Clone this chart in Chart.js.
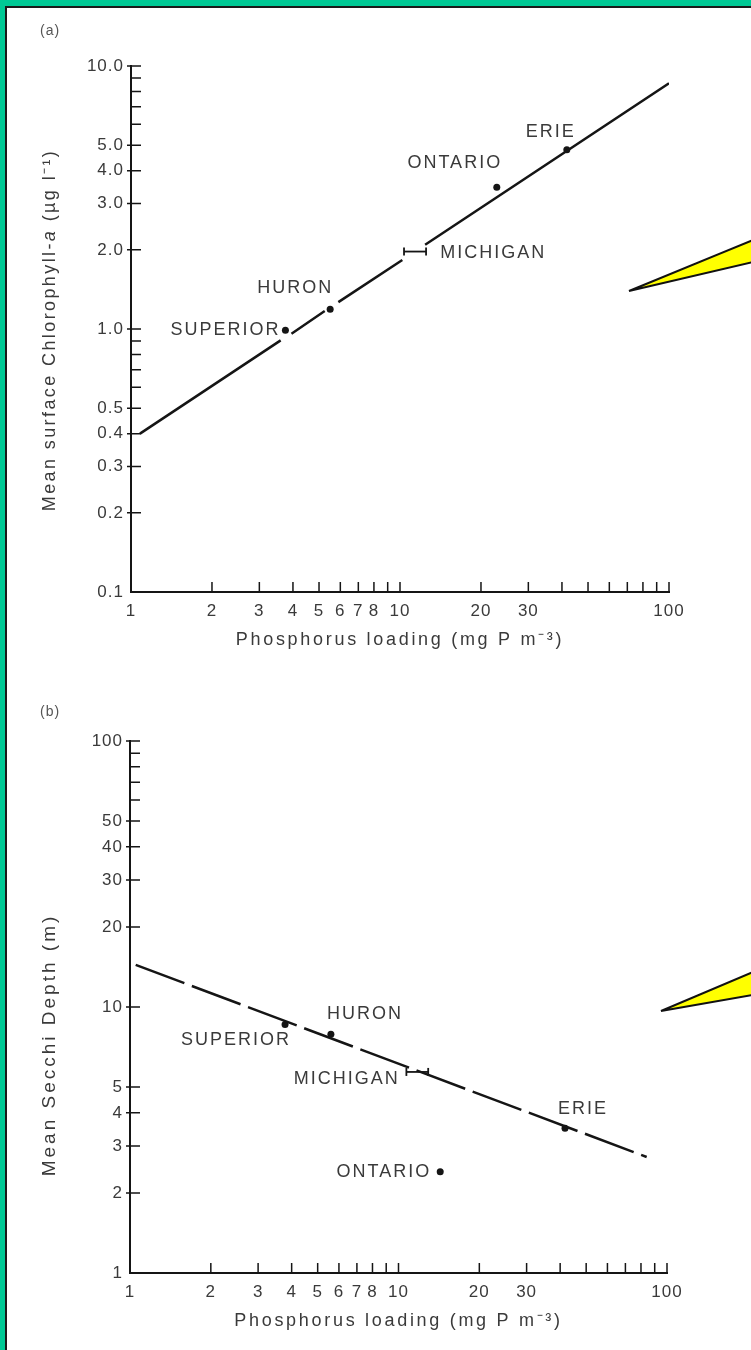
<!DOCTYPE html>
<html>
<head>
<meta charset="utf-8">
<script src="https://cdn.jsdelivr.net/npm/chart.js@4.4.1/dist/chart.umd.min.js"></script>
<style>
  html, body { margin: 0; padding: 0; background: #fff; }
  #page { position: relative; width: 751px; height: 1350px; overflow: hidden; background: #fff; }
  canvas { position: absolute; left: 0; }
  #chartA { top: 0; }
  #chartB { top: 680px; }
  .panel { position: absolute; left: 40px; font: 14px "Liberation Sans", Arial, sans-serif; color: #555; letter-spacing: 1px; }
  #callouts { position: absolute; left: 0; top: 0; }
  #frame { position: absolute; left: 0; top: 0; width: 746px; height: 1344px; border-left: 5px solid #00c995; border-top: 6px solid #00c995; pointer-events: none; }
  #frame div { position: absolute; left: 0; top: 0; right: 0; bottom: 0; border-left: 2px solid #1a1a1a; border-top: 2px solid #1a1a1a; }
</style>
</head>
<body>
<div id="page">
  <canvas id="chartA" width="751" height="670"></canvas>
  <canvas id="chartB" width="751" height="670"></canvas>
  <div class="panel" style="top:22px">(a)</div>
  <div class="panel" style="top:703px">(b)</div>
  <svg id="callouts" width="751" height="1350">
    <polygon points="629,291 753,240 753,262" fill="#ffff00" stroke="#111" stroke-width="2" stroke-linejoin="miter"/>
    <polygon points="661,1011 753,972 753,995" fill="#ffff00" stroke="#111" stroke-width="2" stroke-linejoin="miter"/>
  </svg>
  <div id="frame"><div></div></div>
</div>
<script>
// tick values and labels (both panels share the phosphorus axis)
const xTicks = [1, 2, 3, 4, 5, 6, 7, 8, 9, 10, 20, 30, 40, 50, 60, 70, 80, 90, 100];
const xTickLabels = ['1', '2', '3', '4', '5', '6', '7', '8', '', '10', '20', '30', '', '', '', '', '', '', '100'];

const yTicksA = [0.1, 0.2, 0.3, 0.4, 0.5, 0.6, 0.7, 0.8, 0.9, 1, 2, 3, 4, 5, 6, 7, 8, 9, 10];
const yTickLabelsA = ['0.1', '0.2', '0.3', '0.4', '0.5', '', '', '', '', '1.0', '2.0', '3.0', '4.0', '5.0', '', '', '', '', '10.0'];

const yTicksB = [1, 2, 3, 4, 5, 10, 20, 30, 40, 50, 60, 70, 80, 90, 100];
const yTickLabelsB = ['1', '2', '3', '4', '5', '10', '20', '30', '40', '50', '', '', '', '', '100'];

const lakes = ['SUPERIOR', 'HURON', 'MICHIGAN', 'ONTARIO', 'ERIE'];

// panel (a): chlorophyll vs phosphorus
const phosA = [3.75, 5.5, 11.4, 22.9, 41.7];
const chlA = [0.99, 1.19, 1.97, 3.46, 4.8];
const michiganRangeA = [10.35, 12.5];
const fitAX = [1.08, 3.6, 3.75, 3.95, 5.25, 5.6, 5.9, 10.2, 11.3, 12.4, 100];
const fitAY = [0.40, 0.905, null, 0.96, 1.17, null, 1.265, 1.83, null, 2.09, 8.6];

// panel (b): secchi depth vs phosphorus
const phosB = [3.78, 5.6, 11.8, 14.3, 41.7];
const secchiB = [8.6, 7.9, 5.7, 2.4, 3.5];
const michiganRangeB = [10.7, 12.9];
const fitBX = [1.05, 84];
const fitBY = [14.4, 2.73];

const FONT = '"Liberation Sans", Arial, Helvetica, sans-serif';
const INK = '#151515';
const TEXT = '#3a3a3a';

// label placement relative to each lake's point: [dx, dy, align]
const labelPosA = {
  SUPERIOR: [-5, 0, 'right'], HURON: [-35, -21, 'center'], MICHIGAN: [25, 1, 'left'],
  ONTARIO: [-42, -24, 'center'], ERIE: [-16, -18, 'center']
};
const labelPosB = {
  SUPERIOR: [-49, 16, 'center'], HURON: [34, -20, 'center'], MICHIGAN: [-18, 7, 'right'],
  ONTARIO: [-9, 0, 'right'], ERIE: [18, -19, 'center']
};

function drawParts(ctx, parts, size) {
  let total = 0;
  parts.forEach(p => {
    ctx.font = (p.italic ? 'italic ' : '') + size + 'px ' + FONT;
    total += ctx.measureText(p.t).width;
  });
  let cx = -total / 2;
  parts.forEach(p => {
    ctx.font = (p.italic ? 'italic ' : '') + size + 'px ' + FONT;
    ctx.fillText(p.t, cx, 0);
    cx += ctx.measureText(p.t).width;
  });
}

// inward tick marks, lake names and the axis titles
const decor = {
  id: 'decor',
  beforeDraw(chart) {
    chart.ctx.letterSpacing = '1px';
  },
  afterDraw(chart, args, opts) {
    const ctx = chart.ctx;
    const a = chart.chartArea;
    const x = chart.scales.x, y = chart.scales.y;
    ctx.save();
    ctx.strokeStyle = INK;
    ctx.lineWidth = 1.5;
    ctx.beginPath();
    opts.xTicks.forEach(v => {
      if (v === x.min) return;
      const p = x.getPixelForValue(v);
      ctx.moveTo(p, a.bottom);
      ctx.lineTo(p, a.bottom - 10);
    });
    opts.yTicks.forEach((v, i) => {
      if (v === y.min) return;
      const p = y.getPixelForValue(v);
      ctx.moveTo(a.left - (opts.yLabels[i] ? 4 : 0), p);
      ctx.lineTo(a.left + 10, p);
    });
    ctx.stroke();

    ctx.font = '18px ' + FONT;
    ctx.fillStyle = TEXT;
    ctx.textBaseline = 'middle';
    ctx.letterSpacing = '2px';
    opts.names.forEach((n, i) => {
      const [dx, dy, al] = opts.labelPos[n];
      ctx.textAlign = al;
      ctx.fillText(n, x.getPixelForValue(opts.px[i]) + dx, y.getPixelForValue(opts.py[i]) + dy);
    });
    ctx.textAlign = 'left';

    // x axis title
    const xt = opts.xTitle;
    ctx.save();
    ctx.letterSpacing = xt.spacing + 'px';
    ctx.translate((a.left + a.right) / 2, xt.y);
    drawParts(ctx, xt.parts, xt.size);
    ctx.restore();

    // y axis title, may hold an italic piece
    const t = opts.yTitle;
    ctx.translate(t.x, t.y);
    ctx.rotate(-Math.PI / 2);
    ctx.letterSpacing = t.spacing + 'px';
    drawParts(ctx, t.parts, t.size);
    ctx.restore();
  }
};

function makeChart(id, o) {
  const pts = o.lakes.map((n, i) => ({ x: o.px[i], y: o.py[i] })).filter((p, i) => o.lakes[i] !== 'MICHIGAN');
  const mi = o.lakes.indexOf('MICHIGAN');
  return new Chart(document.getElementById(id), {
    type: 'scatter',
    data: {
      datasets: [
        {
          data: o.fitX.map((v, i) => ({ x: v, y: o.fitY[i] })),
          showLine: true,
          spanGaps: false,
          borderColor: INK,
          borderWidth: 2.5,
          borderDash: o.dash,
          pointRadius: 0
        },
        {
          data: o.range.map(v => ({ x: v, y: o.py[mi] })),
          showLine: true,
          borderColor: INK,
          borderWidth: 1.8,
          pointStyle: 'line',
          rotation: 90,
          pointRadius: 4,
          pointBorderWidth: 1.8,
          pointBorderColor: INK
        },
        {
          data: pts,
          pointRadius: 3.5,
          pointBackgroundColor: INK,
          pointBorderWidth: 0
        }
      ]
    },
    options: {
      responsive: false,
      animation: false,
      events: [],
      layout: { padding: o.padding },
      scales: {
        x: {
          type: 'logarithmic',
          min: 1,
          max: 100,
          afterBuildTicks: s => { s.ticks = xTicks.map(v => ({ value: v })); },
          afterFit: s => { s.height = o.xHeight; },
          grid: { display: true, drawOnChartArea: false, drawTicks: false },
          border: { display: true, color: INK, width: 2 },
          ticks: {
            autoSkip: false, maxRotation: 0, minRotation: 0, padding: 9,
            color: TEXT, font: { family: FONT, size: 17 },
            callback: v => { const i = xTicks.indexOf(v); return i >= 0 ? xTickLabels[i] : ''; }
          }
        },
        y: {
          type: 'logarithmic',
          min: o.yTicks[0],
          max: o.yTicks[o.yTicks.length - 1],
          afterBuildTicks: s => { s.ticks = o.yTicks.map(v => ({ value: v })); },
          afterFit: s => { s.width = o.yWidth; },
          grid: { display: true, drawOnChartArea: false, drawTicks: false },
          border: { display: true, color: INK, width: 2 },
          ticks: {
            autoSkip: false, padding: 7,
            color: TEXT, font: { family: FONT, size: 17 },
            callback: v => { const i = o.yTicks.indexOf(v); return i >= 0 ? o.yLabels[i] : ''; }
          }
        }
      },
      plugins: {
        legend: { display: false },
        tooltip: { enabled: false },
        decor: {
          xTicks: xTicks, yTicks: o.yTicks, yLabels: o.yLabels,
          names: o.lakes, px: o.px, py: o.py, labelPos: o.labelPos,
          xTitle: o.xTitle, yTitle: o.yTitle
        }
      }
    },
    plugins: [decor]
  });
}

const xTitleParts = [{ t: 'Phosphorus loading (mg P m⁻³)' }];

makeChart('chartA', {
  lakes: lakes, px: phosA, py: chlA, range: michiganRangeA,
  fitX: fitAX, fitY: fitAY, dash: [],
  yTicks: yTicksA, yLabels: yTickLabelsA, labelPos: labelPosA,
  padding: { left: 0, right: 82, top: 66, bottom: 0 },
  xHeight: 78, yWidth: 131,
  xTitle: { y: 640, size: 18, spacing: 2.7, parts: xTitleParts },
  yTitle: { x: 50, y: 330, size: 18, spacing: 2.4,
    parts: [{ t: 'Mean surface Chlorophyll-' }, { t: 'a', italic: true }, { t: ' (µg l⁻¹)' }] }
});

makeChart('chartB', {
  lakes: lakes, px: phosB, py: secchiB, range: michiganRangeB,
  fitX: fitBX, fitY: fitBY, dash: [52, 8],
  yTicks: yTicksB, yLabels: yTickLabelsB, labelPos: labelPosB,
  padding: { left: 0, right: 84, top: 61, bottom: 0 },
  xHeight: 77, yWidth: 130,
  xTitle: { y: 641, size: 18, spacing: 2.7, parts: xTitleParts },
  yTitle: { x: 50, y: 365, size: 19, spacing: 3, parts: [{ t: 'Mean Secchi Depth (m)' }] }
});
</script>
</body>
</html>
